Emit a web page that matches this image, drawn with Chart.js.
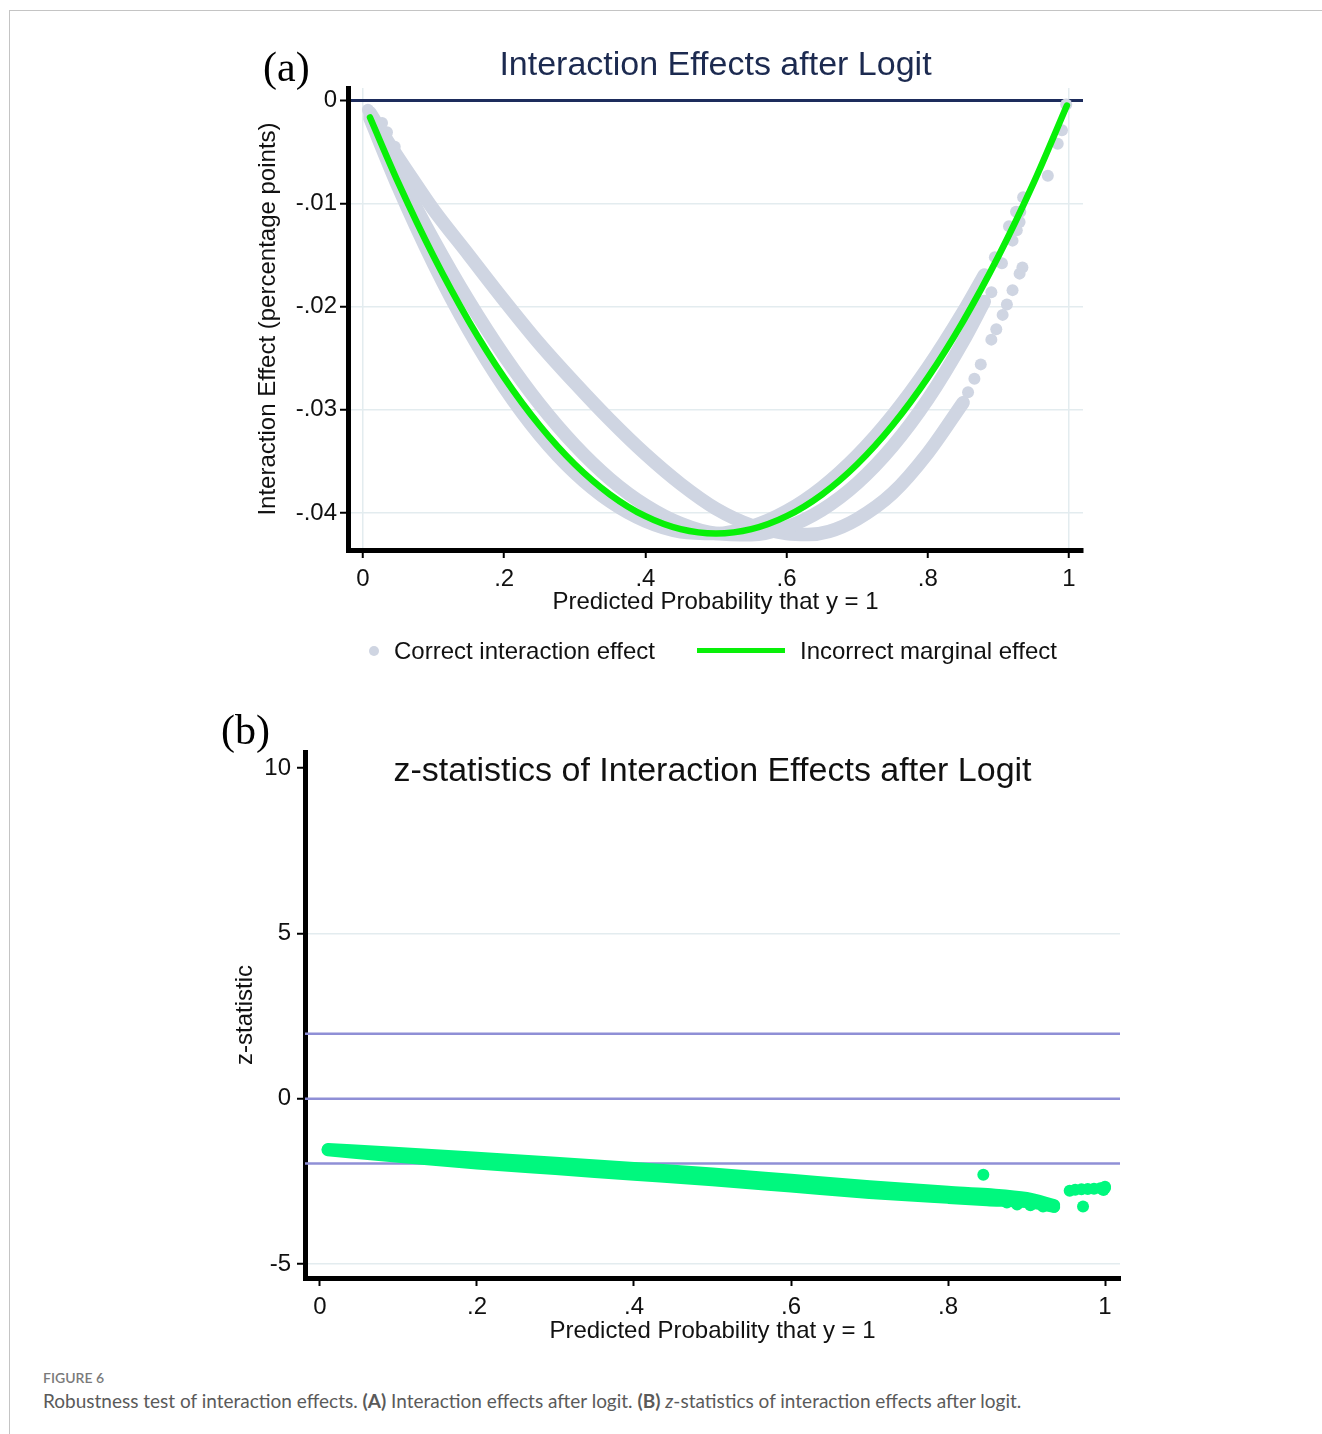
<!DOCTYPE html>
<html>
<head>
<meta charset="utf-8">
<script src="https://cdn.jsdelivr.net/npm/chart.js@4.4.1/dist/chart.umd.min.js"></script>
<style>
  html, body { margin:0; padding:0; background:#fff; }
  body { width:1322px; height:1434px; position:relative; overflow:hidden; font-family:"Liberation Sans", Arial, sans-serif; }
  .abs { position:absolute; white-space:nowrap; }
</style>
</head>
<body>
<div class="abs" style="left:9px;top:10px;width:1313px;height:1424px;border-left:1px solid #c4c4c4;border-top:1px solid #c4c4c4;"></div>
<canvas id="cA" width="1322" height="700" style="position:absolute;left:0;top:0;width:1322px;height:700px;"></canvas>
<canvas id="cB" width="1322" height="660" style="position:absolute;left:0;top:700px;width:1322px;height:660px;"></canvas>

<div class="abs" style="left:263px;top:46px;font-family:'Liberation Serif',serif;font-size:42px;line-height:42px;color:#000;">(a)</div>
<div class="abs" style="left:348px;width:735px;top:46px;text-align:center;font-size:34px;line-height:34px;color:#1c2a50;">Interaction Effects after Logit</div>

<div class="abs" style="left:369px;top:646px;width:10px;height:10px;border-radius:50%;background:#cfd5e2;"></div>
<div class="abs" style="left:394px;top:639px;font-size:24px;line-height:24px;color:#111;">Correct interaction effect</div>
<div class="abs" style="left:697px;top:648px;width:88px;height:5px;background:#08f008;"></div>
<div class="abs" style="left:800px;top:639px;font-size:24px;line-height:24px;color:#111;">Incorrect marginal effect</div>

<div class="abs" style="left:221px;top:709px;font-family:'Liberation Serif',serif;font-size:42px;line-height:42px;color:#000;">(b)</div>
<div class="abs" style="left:305px;width:815px;top:752px;text-align:center;font-size:34px;line-height:34px;color:#111;">z-statistics of Interaction Effects after Logit</div>

<div class="abs" style="left:43px;top:1370px;font-family:Lato,sans-serif;font-size:14px;line-height:16px;color:#7a7a7a;font-weight:600;">FIGURE 6</div>
<div class="abs" style="left:43px;top:1390px;font-family:Lato,sans-serif;font-size:19px;line-height:22px;color:#5a5a5a;">Robustness test of interaction effects. <b>(A)</b> Interaction effects after logit. <b>(B)</b> <i>z</i>-statistics of interaction effects after logit.</div>

<script>
// ---------- Panel (a) data ----------
const pGreen = [0.01,0.05,0.10,0.15,0.20,0.25,0.30,0.35,0.40,0.45,0.50,0.55,0.60,0.65,0.70,0.75,0.80,0.85,0.90,0.95,0.997];
const vGreen = [-0.00166,-0.00798,-0.01512,-0.02142,-0.02688,-0.03150,-0.03528,-0.03822,-0.04032,-0.04158,-0.04200,-0.04158,-0.04032,-0.03822,-0.03528,-0.03150,-0.02688,-0.02142,-0.01512,-0.00798,-0.00050];

const pA = [0.01,0.05,0.10,0.15,0.20,0.25,0.30,0.35,0.40,0.45,0.50,0.55,0.60,0.65,0.70,0.75,0.80,0.85,0.88];
const vA1 = [-0.00176,-0.00841,-0.01584,-0.02231,-0.02784,-0.03244,-0.03612,-0.03890,-0.04080,-0.04183,-0.04200,-0.04133,-0.03984,-0.03754,-0.03444,-0.03056,-0.02592,-0.02053,-0.01694];
const vA2 = [-0.00145,-0.00704,-0.01354,-0.01946,-0.02477,-0.02944,-0.03343,-0.03672,-0.03926,-0.04104,-0.04200,-0.04212,-0.04138,-0.03972,-0.03713,-0.03356,-0.02899,-0.02338,-0.01951];

const pBr = [0.01,0.04,0.07,0.10,0.15,0.20,0.25,0.30,0.35,0.40,0.45,0.50,0.55,0.60,0.63,0.66,0.70,0.75,0.80,0.85];
const vBr = [-0.0012,-0.0045,-0.0076,-0.0106,-0.0150,-0.0194,-0.0236,-0.0274,-0.0310,-0.0343,-0.0372,-0.0396,-0.0412,-0.0420,-0.0421,-0.0418,-0.0406,-0.0381,-0.0342,-0.0293];

const pDots = [0.007,0.027,0.034,0.045,0.857,0.866,0.875,0.890,0.897,0.906,0.912,0.920,0.930,0.934,0.895,0.915,0.925,0.935,0.890,0.905,0.920,0.930,0.926,0.931,0.970,0.984,0.990,0.996];
const vDots = [-0.0009,-0.0022,-0.0031,-0.0045,-0.0283,-0.0270,-0.0256,-0.0232,-0.0222,-0.0208,-0.0198,-0.0184,-0.0168,-0.0162,-0.0152,-0.0122,-0.0108,-0.0094,-0.0186,-0.0158,-0.0136,-0.0118,-0.0126,-0.0108,-0.0073,-0.0042,-0.0029,-0.0004];

const xTicks = [0,0.2,0.4,0.6,0.8,1];
const xTickLabels = ['0','.2','.4','.6','.8','1'];
const yTicksA = [0,-0.01,-0.02,-0.03,-0.04];
const yTickLabelsA = ['0','-.01','-.02','-.03','-.04'];

// ---------- Panel (b) data ----------
const pBand = [0.01,0.10,0.20,0.30,0.40,0.50,0.60,0.70,0.80,0.85,0.90,0.935];
const zUpper = [-1.53,-1.65,-1.79,-1.94,-2.10,-2.27,-2.46,-2.65,-2.82,-2.89,-3.01,-3.22];
const zLower = [-1.55,-1.75,-1.95,-2.12,-2.29,-2.46,-2.65,-2.84,-2.99,-3.06,-3.12,-3.26];
const pZDots = [0.875,0.888,0.905,0.921,0.935,0.845,0.972,0.955,0.962,0.970,0.978,0.986,0.994,1.000,1.000,0.998];
const zDots  = [-3.14,-3.20,-3.22,-3.26,-3.27,-2.30,-3.26,-2.78,-2.75,-2.74,-2.73,-2.72,-2.71,-2.70,-2.66,-2.76];
const yTicksB = [10,5,0,-5];
const yTickLabelsB = ['10','5','0','-5'];
const zRefLines = [1.96,0,-1.96];

// ---------- styles ----------
const GREY = '#cfd5e2';
const GREEN = '#08f008';
const MINT = '#00f87e';
const NAVY = '#1d2c5c';
const LIGHT = '#e3ecef';
const PURPLE = '#8f8fd6';
const FONT = "'Liberation Sans', Arial, sans-serif";

const xy = (xs, ys) => xs.map((x, i) => ({x: x, y: ys[i]}));

const lineDs = (label, xs, ys, color, width, order) => ({
  label, data: xy(xs, ys), showLine: true, borderColor: color, backgroundColor: color,
  borderWidth: width, pointRadius: 0, pointHoverRadius: 0, cubicInterpolationMode: 'monotone',
  borderCapStyle: 'round', borderJoinStyle: 'round', order, clip: false
});
const dotDs = (label, xs, ys, color, r, order) => ({
  label, data: xy(xs, ys), showLine: false, backgroundColor: color, borderColor: color,
  borderWidth: 0, pointRadius: r, pointHoverRadius: r, order, clip: false
});

const tickFont = {family: FONT, size: 24};

new Chart(document.getElementById('cA'), {
  type: 'scatter',
  data: { datasets: [
    lineDs('Incorrect marginal effect', pGreen, vGreen, GREEN, 6.5, 0),
    lineDs('Correct interaction effect', pA, vA1, GREY, 13.5, 2),
    lineDs('Correct interaction effect (2)', pA, vA2, GREY, 13.5, 2),
    lineDs('Correct interaction effect (3)', pBr, vBr, GREY, 13.5, 2),
    dotDs('Correct interaction effect (4)', pDots, vDots, GREY, 6, 2)
  ]},
  options: {
    responsive: false, animation: false, devicePixelRatio: 1,
    layout: { padding: { left: 248, right: 239, top: 88, bottom: 80 } },
    plugins: { legend: { display: false }, tooltip: { enabled: false }, title: { display: false } },
    scales: {
      x: {
        type: 'linear', min: -0.0212, max: 1.0198,
        afterBuildTicks: s => { s.ticks = xTicks.map(v => ({value: v})); },
        afterFit: s => { s.height = 70; },
        ticks: { callback: (v, i) => xTickLabels[i], font: tickFont, color: '#111', padding: 7, maxRotation: 0, autoSkip: false },
        grid: { color: c => (c.tick && (c.tick.value === 0 || c.tick.value === 1)) ? LIGHT : 'rgba(0,0,0,0)', lineWidth: 1.5, tickColor: '#000', tickWidth: 2, tickLength: 8 },
        border: { color: '#000', width: 5 },
        title: { display: true, text: 'Predicted Probability that y = 1', font: tickFont, color: '#111', padding: { top: 0, bottom: 3 } }
      },
      y: {
        type: 'linear', min: -0.0436, max: 0.0012,
        afterBuildTicks: s => { s.ticks = yTicksA.map(v => ({value: v})); },
        afterFit: s => { s.width = 100; },
        ticks: { callback: (v, i) => yTickLabelsA[i], font: tickFont, color: '#111', padding: 3 },
        grid: { color: c => (c.tick && c.tick.value === 0) ? NAVY : LIGHT, lineWidth: c => (c.tick && c.tick.value === 0) ? 3 : 1.5, tickColor: '#000', tickWidth: 2, tickLength: 8 },
        border: { color: '#000', width: 5 },
        title: { display: true, text: 'Interaction Effect (percentage points)', font: tickFont, color: '#111', padding: { top: 6, bottom: 0 } }
      }
    }
  }
});

const refLinePlugin = {
  id: 'refLines',
  beforeDatasetsDraw(chart) {
    const {ctx, chartArea: a, scales: {y}} = chart;
    ctx.save();
    ctx.strokeStyle = PURPLE;
    ctx.lineWidth = 2.5;
    zRefLines.forEach(v => {
      const py = y.getPixelForValue(v);
      ctx.beginPath(); ctx.moveTo(a.left, py); ctx.lineTo(a.right, py); ctx.stroke();
    });
    ctx.restore();
  }
};

new Chart(document.getElementById('cB'), {
  type: 'scatter',
  data: { datasets: [
    lineDs('z-statistic', pBand, zUpper, MINT, 12.5, 1),
    lineDs('z-statistic (2)', pBand, zLower, MINT, 12.5, 1),
    dotDs('z-statistic (3)', pZDots, zDots, MINT, 6, 1)
  ]},
  options: {
    responsive: false, animation: false, devicePixelRatio: 1,
    layout: { padding: { left: 205, right: 202, top: 52, bottom: 12 } },
    plugins: { legend: { display: false }, tooltip: { enabled: false }, title: { display: false } },
    scales: {
      x: {
        type: 'linear', min: -0.0191, max: 1.0191,
        afterBuildTicks: s => { s.ticks = xTicks.map(v => ({value: v})); },
        afterFit: s => { s.height = 70; },
        ticks: { callback: (v, i) => xTickLabels[i], font: tickFont, color: '#111', padding: 7, maxRotation: 0, autoSkip: false },
        grid: { color: 'rgba(0,0,0,0)', tickColor: '#000', tickWidth: 2, tickLength: 8 },
        border: { color: '#000', width: 5 },
        title: { display: true, text: 'Predicted Probability that y = 1', font: tickFont, color: '#111', padding: { top: 0, bottom: 2 } }
      },
      y: {
        type: 'linear', min: -5.42, max: 10.48,
        afterBuildTicks: s => { s.ticks = yTicksB.map(v => ({value: v})); },
        afterFit: s => { s.width = 100; },
        ticks: { callback: (v, i) => yTickLabelsB[i], font: tickFont, color: '#111', padding: 6 },
        grid: { color: c => (c.tick && (c.tick.value === 5 || c.tick.value === -5)) ? LIGHT : 'rgba(0,0,0,0)', lineWidth: 1.5, tickColor: '#000', tickWidth: 2, tickLength: 8 },
        border: { color: '#000', width: 5 },
        title: { display: true, text: 'z-statistic', font: tickFont, color: '#111', padding: { top: 26, bottom: 0 } }
      }
    }
  },
  plugins: [refLinePlugin]
});
</script>
</body>
</html>
